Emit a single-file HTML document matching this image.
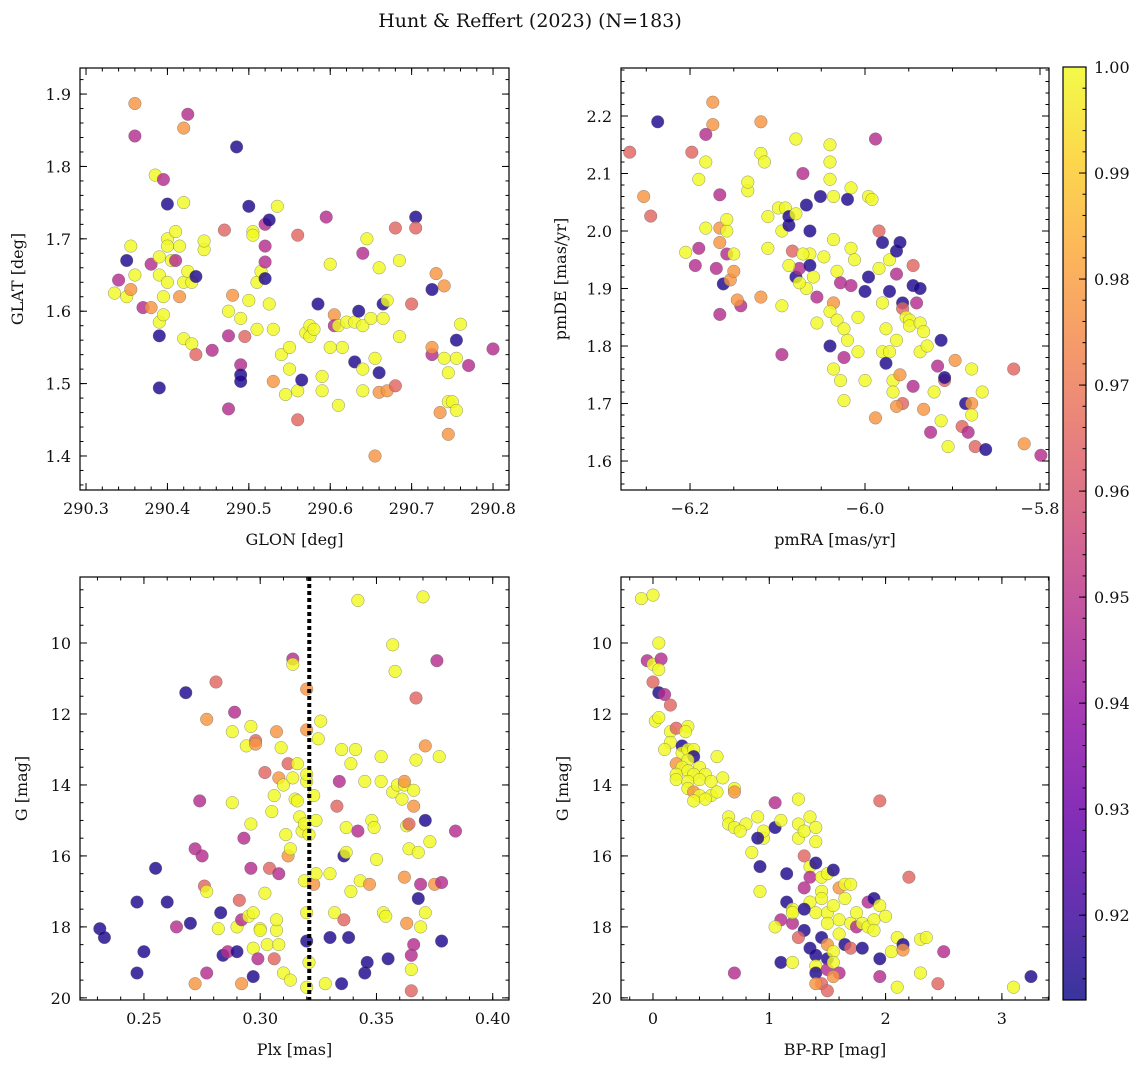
<!DOCTYPE html>
<html><head><meta charset="utf-8">
<style>
html,body{margin:0;padding:0;background:#fff;}
svg text{font-family:"DejaVu Serif","Liberation Serif",serif;fill:#111;}
</style></head>
<body>
<svg id="fig" width="1148" height="1067" viewBox="0 0 1148 1067" xmlns="http://www.w3.org/2000/svg">
<text x="530" y="27" font-size="19" text-anchor="middle">Hunt &amp; Reffert (2023) (N=183)</text>
</svg>
<script>
// ---- data (value triples: x, y, membership probability) ----
const glonGlat = [[290.36,1.887,.978],[290.36,1.842,.948],[290.42,1.853,.978],[290.425,1.872,.948],[290.485,1.827,.915],[290.385,1.788,1],[290.395,1.782,.948],[290.42,1.75,1],[290.40,1.748,.915],[290.35,1.67,.915],[290.355,1.69,1],[290.34,1.643,.948],[290.335,1.625,1],[290.35,1.62,1],[290.355,1.63,.978],[290.36,1.65,1],[290.37,1.605,.948],[290.38,1.605,.978],[290.38,1.665,.948],[290.39,1.675,1],[290.39,1.65,1],[290.395,1.62,1],[290.39,1.585,1],[290.395,1.595,1],[290.39,1.566,.915],[290.39,1.494,.915],[290.40,1.70,1],[290.40,1.69,1],[290.405,1.67,1],[290.40,1.64,1],[290.41,1.71,1],[290.41,1.67,.948],[290.415,1.69,1],[290.415,1.62,.978],[290.42,1.64,1],[290.42,1.562,1],[290.425,1.655,1],[290.43,1.64,1],[290.435,1.648,.915],[290.43,1.555,1],[290.435,1.54,.965],[290.445,1.685,1],[290.445,1.697,1],[290.455,1.546,.948],[290.47,1.712,.965],[290.475,1.6,1],[290.475,1.566,.948],[290.48,1.622,.978],[290.475,1.465,.948],[290.49,1.526,.948],[290.49,1.512,.915],[290.49,1.503,.915],[290.49,1.59,1],[290.495,1.565,.965],[290.5,1.745,.915],[290.5,1.615,1],[290.505,1.71,1],[290.505,1.705,1],[290.51,1.64,1],[290.51,1.575,1],[290.515,1.655,1],[290.52,1.72,.948],[290.52,1.69,.948],[290.52,1.668,.948],[290.525,1.726,.915],[290.52,1.645,.915],[290.525,1.61,1],[290.53,1.575,1],[290.53,1.503,.978],[290.535,1.745,1],[290.54,1.54,1],[290.545,1.485,1],[290.55,1.52,1],[290.55,1.55,1],[290.56,1.45,.965],[290.56,1.705,.965],[290.56,1.49,1],[290.565,1.505,.915],[290.57,1.57,1],[290.575,1.58,1],[290.575,1.565,1],[290.58,1.575,1],[290.585,1.61,.915],[290.59,1.49,1],[290.59,1.51,1],[290.595,1.73,.948],[290.6,1.55,1],[290.6,1.665,1],[290.605,1.595,.978],[290.605,1.58,.948],[290.61,1.47,1],[290.61,1.58,1],[290.615,1.55,1],[290.62,1.585,1],[290.63,1.53,.915],[290.63,1.585,1],[290.635,1.6,.915],[290.64,1.58,1],[290.64,1.52,1],[290.64,1.49,1],[290.64,1.68,.948],[290.645,1.7,1],[290.65,1.59,1],[290.655,1.535,1],[290.655,1.4,.978],[290.66,1.488,.978],[290.66,1.515,.915],[290.66,1.66,1],[290.665,1.59,1],[290.665,1.61,.915],[290.67,1.49,.978],[290.67,1.615,1],[290.68,1.715,.965],[290.68,1.497,.965],[290.685,1.67,1],[290.685,1.565,1],[290.7,1.61,.965],[290.705,1.73,.915],[290.705,1.715,.965],[290.725,1.63,.915],[290.725,1.54,.948],[290.725,1.55,.978],[290.73,1.652,.978],[290.735,1.46,.978],[290.74,1.635,.978],[290.74,1.535,1],[290.745,1.515,1],[290.745,1.475,1],[290.745,1.43,.978],[290.75,1.475,1],[290.755,1.56,.915],[290.755,1.535,1],[290.755,1.463,1],[290.76,1.582,1],[290.77,1.525,.948],[290.8,1.548,.948]];
const pmraPmde = [[-6.237,2.19,.915],[-6.269,2.137,.965],[-6.253,2.06,.978],[-6.245,2.026,.965],[-6.198,2.137,.965],[-6.182,2.12,1],[-6.190,2.09,1],[-6.174,2.224,.978],[-6.174,2.185,.978],[-6.182,2.168,.948],[-6.205,1.963,1],[-6.194,1.94,.948],[-6.190,1.97,.948],[-6.182,2.005,1],[-6.166,2.005,.978],[-6.166,1.98,.978],[-6.170,1.935,.948],[-6.158,1.96,.948],[-6.150,1.96,1],[-6.158,2.0,1],[-6.158,2.02,1],[-6.162,1.908,.915],[-6.166,2.063,.948],[-6.154,1.915,.978],[-6.150,1.93,.978],[-6.142,1.87,.948],[-6.146,1.88,.978],[-6.166,1.855,.948],[-6.134,2.07,1],[-6.134,2.085,1],[-6.119,2.19,.978],[-6.119,2.135,1],[-6.115,2.12,1],[-6.111,2.025,1],[-6.111,1.97,1],[-6.119,1.885,.978],[-6.099,2.04,1],[-6.095,2.0,1],[-6.091,2.04,1],[-6.087,2.01,.915],[-6.087,2.025,.915],[-6.079,2.16,1],[-6.083,1.965,.965],[-6.079,2.03,1],[-6.079,1.92,.915],[-6.075,1.935,.948],[-6.087,1.94,1],[-6.095,1.785,.948],[-6.095,1.87,1],[-6.071,2.10,.948],[-6.067,2.045,.915],[-6.063,2.0,.915],[-6.063,1.96,1],[-6.063,1.94,.915],[-6.051,2.06,.915],[-6.047,1.955,1],[-6.055,1.885,.948],[-6.059,1.92,1],[-6.067,1.9,1],[-6.071,1.96,1],[-6.075,1.91,1],[-6.040,2.15,1],[-6.040,2.12,1],[-6.040,2.09,1],[-6.036,2.06,1],[-6.036,1.985,1],[-6.036,1.875,.978],[-6.040,1.86,1],[-6.032,1.845,1],[-6.040,1.8,.915],[-6.055,1.84,1],[-6.036,1.76,1],[-6.028,1.74,1],[-6.024,1.705,1],[-6.024,1.78,.948],[-6.032,1.93,1],[-6.028,1.91,.948],[-6.024,1.83,1],[-6.020,1.81,1],[-6.016,2.075,1],[-6.020,2.055,.915],[-6.016,1.97,1],[-6.016,1.905,.948],[-6.012,1.95,1],[-6.008,1.85,1],[-6.008,1.79,1],[-6.0,1.895,.915],[-5.996,1.92,.915],[-5.996,2.06,1],[-5.992,2.055,1],[-5.988,2.16,.948],[-5.984,2.0,.965],[-5.984,1.935,1],[-5.980,1.98,.915],[-5.980,1.875,1],[-5.976,1.83,1],[-5.980,1.79,1],[-5.972,1.79,1],[-5.968,1.74,1],[-5.968,1.72,1],[-5.988,1.675,.978],[-5.976,1.77,.915],[-5.972,1.895,.915],[-5.972,1.95,1],[-5.964,1.81,1],[-5.964,1.965,.915],[-5.960,1.98,.915],[-5.964,1.925,.948],[-5.957,1.875,.915],[-5.957,1.7,.965],[-5.964,1.695,.978],[-5.960,1.75,.978],[-5.957,1.865,.965],[-5.953,1.85,1],[-5.949,1.845,1],[-5.949,1.835,1],[-5.945,1.905,.915],[-5.945,1.94,.965],[-5.945,1.73,.948],[-5.941,1.875,.948],[-5.937,1.84,1],[-5.933,1.69,.978],[-5.937,1.79,1],[-5.933,1.825,1],[-5.937,1.9,.915],[-5.929,1.8,1],[-5.925,1.65,.948],[-5.921,1.72,1],[-5.917,1.765,.948],[-5.913,1.81,.915],[-5.913,1.67,1],[-5.909,1.74,.965],[-5.909,1.745,.915],[-5.905,1.625,1],[-5.897,1.775,.978],[-5.889,1.66,.965],[-5.885,1.7,.915],[-5.882,1.65,.948],[-5.878,1.7,.978],[-5.878,1.68,1],[-5.878,1.76,1],[-5.874,1.625,.965],[-5.866,1.72,1],[-5.862,1.62,.915],[-5.830,1.76,.965],[-5.818,1.63,.978],[-5.799,1.61,.948],[-6.0,1.74,1]];
const plxG = [[0.231,18.05,.915],[0.233,18.3,.915],[0.247,17.3,.915],[0.247,19.3,.915],[0.25,18.7,.915],[0.255,16.35,.915],[0.26,17.3,.915],[0.264,18.0,.948],[0.268,11.4,.915],[0.27,17.9,.915],[0.272,15.8,.948],[0.272,19.6,.978],[0.274,14.45,.948],[0.275,16.0,.948],[0.276,16.85,.965],[0.277,17.0,1],[0.277,12.15,.978],[0.277,19.3,.948],[0.281,11.1,.965],[0.282,18.05,1],[0.283,17.6,.915],[0.284,18.8,.915],[0.286,18.7,.948],[0.288,14.5,1],[0.288,12.5,1],[0.289,11.95,.948],[0.29,18.0,1],[0.29,18.7,.915],[0.291,17.25,.965],[0.292,17.8,.948],[0.292,19.6,.978],[0.293,15.5,.948],[0.294,12.9,1],[0.295,17.7,1],[0.296,12.35,1],[0.296,15.1,1],[0.296,16.35,.948],[0.297,17.6,1],[0.297,18.6,1],[0.297,19.4,.915],[0.298,12.75,.965],[0.298,12.85,.978],[0.299,18.9,.948],[0.3,18.05,1],[0.3,18.1,1],[0.302,17.05,1],[0.302,13.65,.965],[0.303,18.5,1],[0.304,16.35,.965],[0.305,14.75,1],[0.306,14.3,1],[0.306,18.9,.965],[0.307,12.5,.978],[0.307,18.1,1],[0.307,17.8,1],[0.308,18.5,1],[0.308,16.5,.948],[0.308,13.8,.978],[0.309,12.95,1],[0.31,14.0,1],[0.31,19.3,1],[0.311,15.4,1],[0.312,16.0,.978],[0.312,13.4,.965],[0.313,19.5,1],[0.313,15.8,1],[0.314,10.45,.948],[0.314,10.6,1],[0.314,13.8,1],[0.315,14.4,1],[0.316,14.45,1],[0.316,13.4,1],[0.317,14.9,1],[0.318,15.3,1],[0.319,15.1,1],[0.32,13.9,1],[0.32,13.7,1],[0.321,15.4,1],[0.32,11.3,.978],[0.32,12.45,.978],[0.32,17.6,1],[0.319,16.7,1],[0.32,18.4,.915],[0.32,19.7,1],[0.321,19.0,1],[0.323,14.3,1],[0.323,16.8,.978],[0.324,15.0,1],[0.324,16.5,1],[0.325,12.7,1],[0.326,12.2,1],[0.328,19.6,1],[0.33,18.3,.915],[0.33,16.5,1],[0.332,17.6,1],[0.333,14.6,.965],[0.334,13.9,.948],[0.335,13.0,1],[0.335,19.6,.915],[0.336,16.0,.915],[0.336,17.8,.965],[0.337,15.9,1],[0.337,15.2,1],[0.338,18.3,.915],[0.339,13.4,1],[0.339,17.0,1],[0.341,13.0,1],[0.342,15.3,.948],[0.342,8.8,1],[0.343,16.7,1],[0.345,19.3,.915],[0.345,13.9,1],[0.346,19.0,.915],[0.347,16.8,.978],[0.348,15.0,1],[0.349,15.2,1],[0.35,16.1,1],[0.352,13.9,1],[0.352,13.2,1],[0.353,17.6,1],[0.354,17.7,1],[0.355,18.9,.915],[0.357,10.05,1],[0.357,14.2,1],[0.358,10.8,1],[0.359,14.0,1],[0.361,14.4,1],[0.362,16.6,.978],[0.362,14.0,1],[0.363,15.15,1],[0.363,17.9,.978],[0.364,15.1,.965],[0.364,15.8,1],[0.365,18.8,.948],[0.365,19.2,1],[0.365,19.8,.965],[0.366,18.5,.948],[0.366,14.15,1],[0.366,14.6,.978],[0.367,13.3,1],[0.367,11.55,.965],[0.368,15.9,1],[0.368,17.2,.915],[0.369,16.8,.948],[0.369,18.0,1],[0.37,8.7,1],[0.371,12.9,.978],[0.371,15.0,.915],[0.371,17.6,1],[0.373,15.6,1],[0.375,16.8,.978],[0.376,10.5,.948],[0.377,13.2,1],[0.378,16.75,.948],[0.378,18.4,.915],[0.384,15.3,.948],[0.362,13.9,.978]];
const bprpG = [[-0.1,8.75,1],[0.0,8.65,1],[-0.05,10.5,.948],[0.0,10.6,1],[0.05,10.0,1],[0.07,10.45,.948],[0.05,10.75,1],[0.0,11.1,.965],[0.05,11.4,.915],[0.1,11.45,.948],[0.15,11.75,.965],[0.02,12.2,1],[0.05,12.1,1],[0.15,12.5,1],[0.2,12.4,.965],[0.3,12.35,1],[0.28,12.5,1],[0.15,12.8,1],[0.1,13.0,1],[0.25,12.9,.915],[0.25,13.1,1],[0.3,13.0,1],[0.35,13.0,1],[0.35,13.2,.915],[0.2,13.4,.978],[0.3,13.3,1],[0.4,13.5,1],[0.25,13.5,1],[0.2,13.7,1],[0.3,13.6,1],[0.35,13.7,1],[0.45,13.7,1],[0.2,13.85,1],[0.3,13.9,1],[0.4,13.85,1],[0.5,13.9,1],[0.55,13.2,1],[0.6,13.8,1],[0.3,14.1,1],[0.35,14.2,.978],[0.4,14.3,1],[0.5,14.3,1],[0.45,14.4,1],[0.35,14.45,1],[0.55,14.2,1],[0.7,14.1,1],[0.7,14.2,.978],[0.65,14.9,1],[0.65,15.1,1],[0.7,15.2,1],[0.8,15.1,1],[0.75,15.3,1],[0.85,15.9,1],[0.9,14.9,1],[0.95,15.5,1],[0.95,15.3,1],[0.9,15.5,.915],[0.92,16.3,.915],[0.92,17.0,1],[0.7,19.3,.948],[1.05,14.5,.948],[1.05,15.2,.915],[1.1,15.0,1],[1.15,16.5,.915],[1.15,17.3,.915],[1.2,17.5,1],[1.2,17.9,.948],[1.25,14.4,1],[1.25,15.1,1],[1.25,15.5,1],[1.3,15.3,1],[1.3,16.0,.965],[1.3,16.9,.948],[1.3,18.1,.915],[1.35,14.9,1],[1.35,16.3,1],[1.35,16.6,.948],[1.35,17.3,1],[1.35,18.6,.915],[1.4,15.2,1],[1.4,15.6,1],[1.4,16.2,.915],[1.4,17.6,1],[1.4,18.8,.915],[1.4,19.1,1],[1.4,19.3,.915],[1.45,16.6,1],[1.45,17.0,1],[1.45,18.3,.915],[1.45,19.6,.965],[1.5,16.5,1],[1.5,17.6,1],[1.5,18.5,.978],[1.5,18.9,.915],[1.5,19.2,.948],[1.55,16.4,.915],[1.55,17.4,1],[1.55,18.7,1],[1.55,19.0,1],[1.6,16.9,.978],[1.6,17.8,1],[1.6,18.2,1],[1.6,19.3,.948],[1.65,16.8,1],[1.65,17.2,1],[1.65,18.5,.915],[1.7,16.8,1],[1.7,17.9,1],[1.7,18.6,.965],[1.75,17.6,1],[1.75,18.0,.948],[1.8,17.9,1],[1.8,18.6,.915],[1.85,17.3,.948],[1.85,18.0,1],[1.9,17.2,.915],[1.9,17.8,1],[1.9,18.1,1],[1.95,17.4,1],[1.95,18.9,.915],[1.95,19.4,.948],[1.95,14.45,.965],[2.0,17.7,1],[2.05,18.7,1],[2.1,19.7,1],[2.1,18.3,1],[2.15,18.5,.915],[2.15,18.65,.978],[2.2,16.6,.965],[2.3,18.35,1],[2.35,18.3,1],[2.3,19.3,1],[2.45,19.6,.965],[2.5,18.7,.948],[3.1,19.7,1],[3.25,19.4,.915],[1.2,17.6,1],[1.25,18.3,.965],[1.3,17.5,.915],[1.45,17.2,1],[1.5,17.9,1],[1.1,17.8,.948],[1.05,18.0,1],[1.4,19.6,.978],[1.5,19.8,.965],[1.55,19.4,.978],[1.1,19.0,.915],[1.2,19.0,1]];
const plxMean = 0.3211;
const glonTicks = [290.3,290.4,290.5,290.6,290.7,290.8];
const glatTicks = [1.4,1.5,1.6,1.7,1.8,1.9];
const pmraTicks = [-6.2,-6.0,-5.8];
const pmdeTicks = [1.6,1.7,1.8,1.9,2.0,2.1,2.2];
const plxTicks = [0.25,0.30,0.35,0.40];
const gTicks = [10,12,14,16,18,20];
const bprpTicks = [0,1,2,3];
const cbarTicks = [0.92,0.93,0.94,0.95,0.96,0.97,0.98,0.99,1.00];
const cMin = 0.912, cMax = 1.0;

const NS = "http://www.w3.org/2000/svg";
const svg = document.getElementById('fig');
function mk(tag, attrs, parent){ const e=document.createElementNS(NS,tag); for(const k in attrs) e.setAttribute(k,attrs[k]); (parent||svg).appendChild(e); return e; }
const plasma=[[13,8,135],[65,4,157],[106,0,168],[143,13,164],[177,42,144],[204,71,120],[225,100,98],[242,132,75],[252,166,54],[252,206,37],[240,249,33]];
function cmap(v){ let t=(v-cMin)/(cMax-cMin); t=Math.max(0,Math.min(1,t)); const f=t*10, i=Math.min(9,Math.floor(f)), r=f-i; const a=plasma[i], b=plasma[i+1]; return 'rgb('+[0,1,2].map(k=>Math.round(a[k]+(b[k]-a[k])*r)).join(',')+')'; }
function fmt(v,d){ return (v<0?'\u2212':'')+Math.abs(v).toFixed(d); }

function panel(o){
  const {L,T,R,B,xr,yr,xt,yt,xminor,yminor,xd,yd,xlabel,ylabel,ylx,data,name,invY}=o;
  const sx=v=>L+(v-xr[0])/(xr[1]-xr[0])*(R-L);
  const sy=invY? (v=>T+(v-yr[0])/(yr[1]-yr[0])*(B-T)) : (v=>B-(v-yr[0])/(yr[1]-yr[0])*(B-T));
  const g=mk('g',{});
  
  
  const cid='clip-'+name;
  const cp=mk('clipPath',{id:cid},g); mk('rect',{x:L,y:T,width:R-L,height:B-T},cp);
  const pts=mk('g',{'clip-path':'url(#'+cid+')'},g);
  data.forEach(p=>{
    const c=mk('circle',{cx:sx(p[0]).toFixed(1),cy:sy(p[1]).toFixed(1),r:6.3,fill:cmap(p[2]),'fill-opacity':0.82,stroke:'#666','stroke-width':0.5,'stroke-opacity':0.7},pts);
    
    
  });
  if(o.vline!==undefined){
    const ln=mk('line',{x1:sx(o.vline),x2:sx(o.vline),y1:T,y2:B,stroke:'#000','stroke-width':4,'stroke-dasharray':'4 3'},g);
    
    
  }
  const tk=mk('g',{stroke:'#000','stroke-width':1},g);
  for(let v=Math.ceil(xr[0]/xminor)*xminor; v<=xr[1]; v+=xminor){ const x=sx(v); mk('line',{x1:x,x2:x,y1:B,y2:B-3.5},tk); mk('line',{x1:x,x2:x,y1:T,y2:T+3.5},tk); }
  const ylo=Math.min(yr[0],yr[1]), yhi=Math.max(yr[0],yr[1]);
  for(let v=Math.ceil(ylo/yminor)*yminor; v<=yhi; v+=yminor){ const y=sy(v); mk('line',{x1:L,x2:L+3.5,y1:y,y2:y},tk); mk('line',{x1:R,x2:R-3.5,y1:y,y2:y},tk); }
  xt.forEach(v=>{ const x=sx(v); mk('line',{x1:x,x2:x,y1:B,y2:B-7},tk); mk('line',{x1:x,x2:x,y1:T,y2:T+7},tk);
    const t=mk('text',{x:x,y:B+24,'font-size':16,'text-anchor':'middle'},g); t.textContent=fmt(v,xd);
    
     });
  yt.forEach(v=>{ const y=sy(v); mk('line',{x1:L,x2:L+7,y1:y,y2:y},tk); mk('line',{x1:R,x2:R-7,y1:y,y2:y},tk);
    const t=mk('text',{x:L-9,y:y+6,'font-size':16,'text-anchor':'end'},g); t.textContent=fmt(v,yd);
    
     });
  const fr=mk('rect',{x:L,y:T,width:R-L,height:B-T,fill:'none',stroke:'#000','stroke-width':1.2},g);
  
  
  const xl=mk('text',{x:(L+R)/2,y:B+55,'font-size':16,'text-anchor':'middle'},g); xl.textContent=xlabel;
  
  
  const yl=mk('text',{x:ylx,y:(T+B)/2,'font-size':16,'text-anchor':'middle',transform:'rotate(-90 '+ylx+' '+(T+B)/2+')'},g); yl.textContent=ylabel;
  
  
}

panel({name:'glon-glat-panel',L:80,T:68,R:509,B:490,xr:[290.2926,290.8196],yr:[1.353,1.936],xt:glonTicks,yt:glatTicks,xminor:0.02,yminor:0.02,xd:1,yd:1,xlabel:'GLON [deg]',ylabel:'GLAT [deg]',ylx:23,data:glonGlat});
panel({name:'pm-panel',L:621,T:68,R:1049,B:490,xr:[-6.2789,-5.7897],yr:[1.5496,2.2835],xt:pmraTicks,yt:pmdeTicks,xminor:0.05,yminor:0.02,xd:1,yd:1,xlabel:'pmRA [mas/yr]',ylabel:'pmDE [mas/yr]',ylx:566,data:pmraPmde});
panel({name:'plx-g-panel',L:80,T:577,R:509,B:1000,xr:[0.2225,0.407],yr:[8.14,20.06],invY:true,xt:plxTicks,yt:gTicks,xminor:0.01,yminor:0.5,xd:2,yd:0,xlabel:'Plx [mas]',ylabel:'G [mag]',ylx:27,data:plxG,vline:plxMean});
panel({name:'cmd-panel',L:621,T:577,R:1049,B:1000,xr:[-0.275,3.405],yr:[8.14,20.06],invY:true,xt:bprpTicks,yt:gTicks,xminor:0.2,yminor:0.5,xd:0,yd:0,xlabel:'BP-RP [mag]',ylabel:'G [mag]',ylx:568,data:bprpG});

(function(){
  const L=1063,R=1086,T=67,B=1000;
  const defs=mk('defs',{}); const lg=mk('linearGradient',{id:'cb',x1:0,y1:1,x2:0,y2:0},defs);
  for(let i=0;i<=20;i++){ const v=cMin+(cMax-cMin)*i/20; mk('stop',{offset:i/20,'stop-color':cmap(v),'stop-opacity':0.82},lg); }
  const g=mk('g',{});
  
  
  mk('rect',{x:L,y:T,width:R-L,height:B-T,fill:'url(#cb)'},g);
  const sy=v=>B-(v-cMin)/(cMax-cMin)*(B-T);
  for(let v=0.912;v<=1.0001;v+=0.002){ const y=sy(v); mk('line',{x1:R,x2:R-3.5,y1:y,y2:y,stroke:'#000'},g); }
  cbarTicks.forEach(v=>{ const y=sy(v); mk('line',{x1:R,x2:R-7,y1:y,y2:y,stroke:'#000'},g);
    const t=mk('text',{x:R+8,y:y+6,'font-size':16},g); t.textContent=v.toFixed(2);
    
     });
  mk('rect',{x:L,y:T,width:R-L,height:B-T,fill:'none',stroke:'#000','stroke-width':1.2},g);
})();
</script>
</body></html>
